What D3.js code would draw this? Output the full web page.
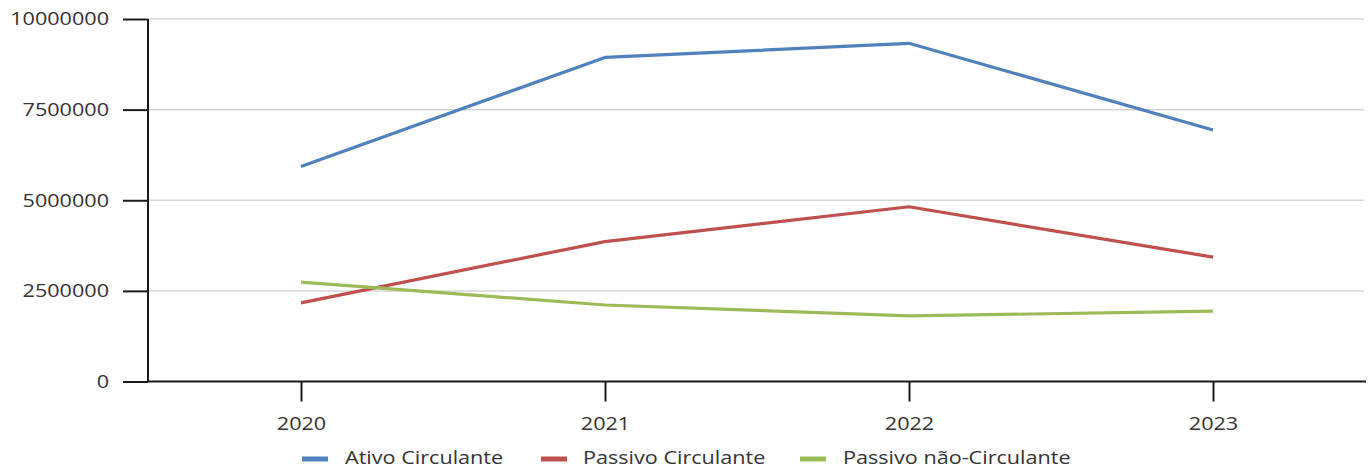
<!DOCTYPE html>
<html>
<head>
<meta charset="utf-8">
<script src="https://cdn.jsdelivr.net/npm/d3@7"></script>
<style>
  html, body { margin: 0; padding: 0; background: #fff; }
  svg text { font-family: "Open Sans", "Noto Sans", sans-serif; fill: #333; }
</style>
</head>
<body>
<svg id="chart" width="1372" height="470"></svg>
<script>
// Balance sheet figures per year
const years = ["2020", "2021", "2022", "2023"];
const ativoCirculante = [5930000, 8940000, 9330000, 6940000];
const passivoCirculante = [2170000, 3860000, 4820000, 3430000];
const passivoNaoCirculante = [2740000, 2110000, 1810000, 1940000];
const seriesNames = ["Ativo Circulante", "Passivo Circulante", "Passivo não-Circulante"];
const seriesColors = ["#4F81BD", "#C0504D", "#9BBB59"];
const yTicks = [0, 2500000, 5000000, 7500000, 10000000];

const seriesValues = [ativoCirculante, passivoCirculante, passivoNaoCirculante];

const svg = d3.select("#chart");
const plotLeft = 148, plotRight = 1364, plotTop = 19, plotBottom = 381.5;
const fontSize = 18, stretch = 1.2;

const x = d3.scalePoint().domain(years).range([plotLeft + 1, plotRight + 1]).padding(0.5);
const y = d3.scaleLinear().domain([0, 10000000]).range([plotBottom, plotTop]);

// horizontal gridlines
svg.append("g")
  .selectAll("line")
  .data(yTicks.filter(d => d > 0))
  .join("line")
  .attr("x1", plotLeft).attr("x2", plotRight)
  .attr("y1", d => y(d)).attr("y2", d => y(d))
  .attr("stroke", "#d6d6d6").attr("stroke-width", 1.5);

// y axis
const yAxis = svg.append("g")
  .attr("transform", `translate(${plotLeft},0)`)
  .call(d3.axisLeft(y).tickValues(yTicks).tickSize(25).tickPadding(14).tickFormat(d3.format("d")));
yAxis.select(".domain").attr("stroke", "#1a1a1a").attr("stroke-width", 2).attr("d", `M0,${plotTop}V${plotBottom}`);
yAxis.selectAll(".tick line").attr("stroke", "#1a1a1a").attr("stroke-width", 2);
yAxis.selectAll(".tick text")
  .attr("font-size", fontSize).attr("fill", "#333")
  .attr("x", -39 / stretch)
  .attr("transform", `scale(${stretch},1)`)
  .style("font-family", "'Open Sans', sans-serif");

// x axis
const xAxis = svg.append("g")
  .attr("transform", `translate(0,${plotBottom})`)
  .call(d3.axisBottom(x).tickSize(20).tickPadding(16));
xAxis.select(".domain").attr("stroke", "#1a1a1a").attr("stroke-width", 2).attr("d", `M${plotLeft},0H1366`);
xAxis.selectAll(".tick line").attr("stroke", "#1a1a1a").attr("stroke-width", 2);
xAxis.selectAll(".tick text")
  .attr("font-size", fontSize).attr("fill", "#333")
  .attr("transform", `scale(${stretch},1)`)
  .style("font-family", "'Open Sans', sans-serif");

// series lines
const line = d3.line().x((d, i) => x(years[i])).y(d => y(d));
svg.append("g")
  .selectAll("path")
  .data(seriesValues)
  .join("path")
  .attr("d", d => line(d))
  .attr("fill", "none")
  .attr("stroke", (d, i) => seriesColors[i])
  .attr("stroke-width", 3.2)
  .attr("stroke-linejoin", "round");

// legend
const legendItems = [
  { swatch: 302, text: 345 },
  { swatch: 541, text: 583 },
  { swatch: 800, text: 843 }
];
const legend = svg.append("g");
legendItems.forEach((p, i) => {
  legend.append("rect")
    .attr("x", p.swatch).attr("y", 456.5)
    .attr("width", 26).attr("height", 5)
    .attr("fill", seriesColors[i]);
  legend.append("text")
    .attr("transform", `translate(${p.text},464) scale(${stretch},1)`)
    .attr("font-size", fontSize)
    .text(seriesNames[i]);
});
</script>
</body>
</html>
